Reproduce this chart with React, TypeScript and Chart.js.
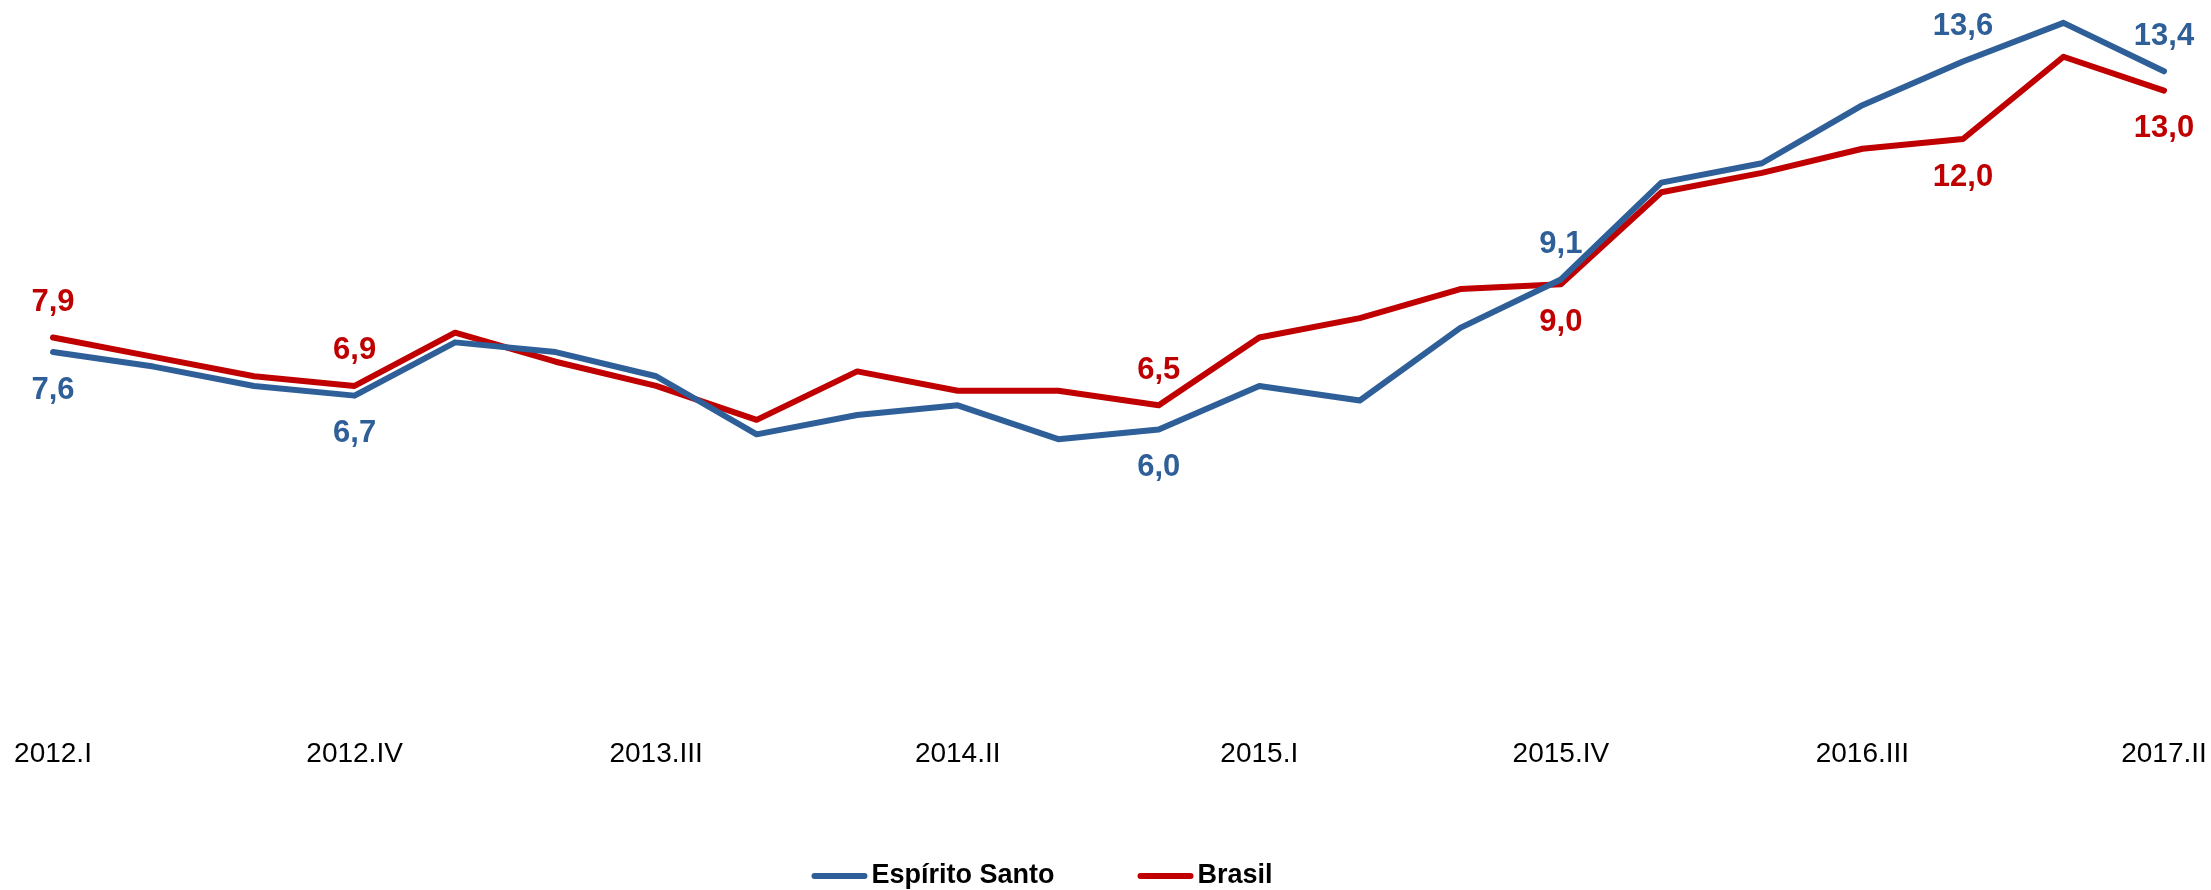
import React, { useEffect, useRef } from "react";
import { Chart, registerables } from "chart.js";

Chart.register(...registerables);

const quarters = [
  "2012.I", "2012.II", "2012.III", "2012.IV",
  "2013.I", "2013.II", "2013.III", "2013.IV",
  "2014.I", "2014.II", "2014.III", "2014.IV",
  "2015.I", "2015.II", "2015.III", "2015.IV",
  "2016.I", "2016.II", "2016.III", "2016.IV",
  "2017.I", "2017.II",
];

const espiritoSanto = [
  7.6, 7.3, 6.9, 6.7, 7.8, 7.6, 7.1, 5.9, 6.3, 6.5, 5.8,
  6.0, 6.9, 6.6, 8.1, 9.1, 11.1, 11.5, 12.7, 13.6, 14.4, 13.4,
];

const brasil = [
  7.9, 7.5, 7.1, 6.9, 8.0, 7.4, 6.9, 6.2, 7.2, 6.8, 6.8,
  6.5, 7.9, 8.3, 8.9, 9.0, 10.9, 11.3, 11.8, 12.0, 13.7, 13.0,
];

// indices that carry a value label
const esLabelIdx = [0, 3, 11, 15, 19, 21];
const esLabelSide = ["below", "below", "below", "above", "above", "above"];
const brLabelIdx = [0, 3, 11, 15, 19, 21];
const brLabelSide = ["above", "above", "above", "below", "below", "below"];

const seriesNames = ["Espírito Santo", "Brasil"];
const BLUE = "#2F5F98";
const RED = "#C00000";
const FONT = "'Liberation Sans', Arial, sans-serif";

const labelPlugin = {
  id: "valueLabelsAndLegend",
  afterDatasetsDraw(chart: any) {
    const ctx = chart.ctx;
    ctx.save();
    ctx.font = `bold 31px ${FONT}`;
    ctx.textAlign = "center";
    ctx.textBaseline = "middle";
    const sets = [
      { ds: 0, idx: esLabelIdx, side: esLabelSide, data: espiritoSanto, color: BLUE },
      { ds: 1, idx: brLabelIdx, side: brLabelSide, data: brasil, color: RED },
    ];
    sets.forEach((s) => {
      const meta = chart.getDatasetMeta(s.ds);
      ctx.fillStyle = s.color;
      s.idx.forEach((i, k) => {
        const pt = meta.data[i];
        const dy = s.side[k] === "above" ? -35 : 38;
        const txt = s.data[i].toFixed(1).replace(".", ",");
        ctx.fillText(txt, pt.x, pt.y + dy);
      });
    });

    // legend
    ctx.font = `bold 27px ${FONT}`;
    ctx.textAlign = "left";
    const sw = 56;
    const gapText = 4;
    const gapItem = 83;
    const colors = [BLUE, RED];
    const widths = seriesNames.map((n) => ctx.measureText(n).width);
    const total = widths.reduce((a, w) => a + sw + gapText + w, 0) + gapItem;
    let x = 1042 - total / 2;
    const y = 876;
    seriesNames.forEach((n, i) => {
      ctx.strokeStyle = colors[i];
      ctx.lineWidth = 6;
      ctx.lineCap = "round";
      ctx.beginPath();
      ctx.moveTo(x + 3, y);
      ctx.lineTo(x + sw - 3, y);
      ctx.stroke();
      ctx.fillStyle = "#000000";
      ctx.fillText(n, x + sw + gapText, y);
      x += sw + gapText + widths[i] + gapItem;
    });
    ctx.restore();
  },
};

export default function App() {
  const ref = useRef<HTMLCanvasElement | null>(null);

  useEffect(() => {
    document.body.style.margin = "0";
    const canvas = ref.current;
    if (!canvas) return;
    const chart = new Chart(canvas, {
      type: "line",
      data: {
        labels: quarters,
        datasets: [
          {
            label: seriesNames[0],
            data: espiritoSanto,
            borderColor: BLUE,
            backgroundColor: BLUE,
            borderWidth: 6,
            pointRadius: 0,
            tension: 0,
            borderCapStyle: "round",
            borderJoinStyle: "round",
          },
          {
            label: seriesNames[1],
            data: brasil,
            borderColor: RED,
            backgroundColor: RED,
            borderWidth: 6,
            pointRadius: 0,
            tension: 0,
            borderCapStyle: "round",
            borderJoinStyle: "round",
          },
        ],
      },
      options: {
        animation: false,
        responsive: false,
        maintainAspectRatio: false,
        layout: { padding: { left: 53, right: 47, top: 18, bottom: 120 } },
        plugins: {
          legend: { display: false },
          tooltip: { enabled: false },
        },
        scales: {
          x: {
            offset: false,
            grid: { display: false, drawTicks: false },
            border: { display: false },
            afterFit: (scale: any) => {
              scale.height = 50;
            },
            ticks: {
              autoSkip: false,
              maxRotation: 0,
              minRotation: 0,
              padding: 1,
              color: "#000000",
              font: { family: FONT, size: 28, lineHeight: 2.36 },
              callback: (_v: any, i: number) => (i % 3 === 0 ? quarters[i] : ""),
            },
          },
          y: {
            display: false,
            min: 0,
            max: 14.5,
          },
        },
      },
      plugins: [labelPlugin],
    });
    return () => chart.destroy();
  }, []);

  return (
    <div style={{ width: 2211, height: 890 }}>
      <canvas ref={ref} width={2211} height={890} style={{ display: "block" }} />
    </div>
  );
}
